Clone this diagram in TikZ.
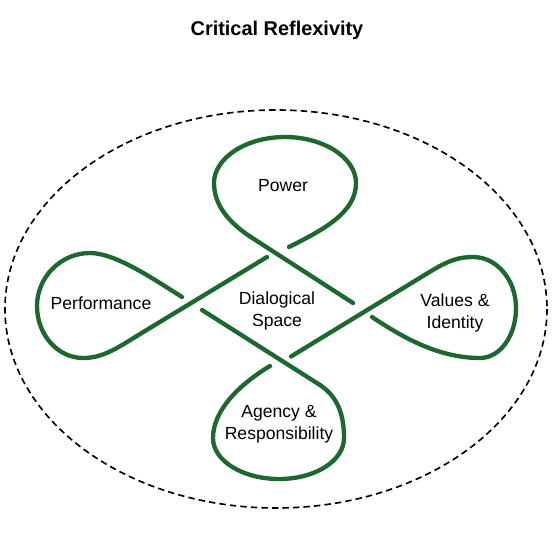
\documentclass[tikz,border=0pt]{standalone}
\usepackage{fontspec}
\setmainfont{Liberation Sans}
\usepackage{xcolor}
\definecolor{knotgreen}{RGB}{28,104,48}
\tikzstyle{heading}  = [font=\fontsize{17}{20}\selectfont\bfseries, text centered, inner sep=0pt]
\tikzstyle{theme}    = [align=center, font=\fontsize{15}{18.7}\selectfont, inner sep=0pt]
\tikzstyle{strand}   = [line width=3.7pt, draw=knotgreen, line cap=round]
\tikzstyle{boundary} = [line width=1.4pt, dash pattern=on 5.5pt off 3.5pt]

\begin{document}
\begin{tikzpicture}[x=0.03cm, y=-0.03cm]
    \useasboundingbox (0,0) rectangle (555,555);

    \node (title) [heading] at (277,30) {Critical Reflexivity};

    % outer dashed boundary
    \draw [boundary] (276,309) ellipse (271 and 199);

    % the four loops, each one passing over at one crossing
    \draw [strand] (289,247) .. controls (325,229) and (356,212) .. (356,183)
        .. controls (356,158) and (324,137) .. (285,137)
        .. controls (246,137) and (214,158) .. (214,183)
        .. controls (214,206) and (230,223) .. (250,236.5) -- (353,303);
    \draw [strand] (372,317) .. controls (405,339) and (440,358) .. (480,358)
        .. controls (500,358) and (516,336) .. (516,308)
        .. controls (516,280) and (497,257) .. (473,257)
        .. controls (458,257) and (448,261) .. (432,270.5) -- (291,356.5);
    \draw [strand] (270,366) .. controls (240,384) and (213,410) .. (213,438)
        .. controls (213,461) and (243,479) .. (279,479)
        .. controls (315,479) and (344,461) .. (344,438)
        .. controls (344,415) and (338,397) .. (320,385) -- (202,310);
    \draw [strand] (182,297) .. controls (152,278) and (115,253) .. (90,253)
        .. controls (61,253) and (37,277) .. (37,306)
        .. controls (37,335) and (58,358) .. (83,358)
        .. controls (105,358) and (120,346) .. (145,331) -- (267,257);

    \node (space)  [theme] at (277,311) {Dialogical\\Space};
    \node (power)  [theme] at (283,186) {Power};
    \node (perf)   [theme] at (101,303) {Performance};
    \node (values) [theme] at (455,313) {Values \&\\Identity};
    \node (agency) [theme] at (279,424) {Agency \&\\Responsibility};
\end{tikzpicture}
\end{document}
